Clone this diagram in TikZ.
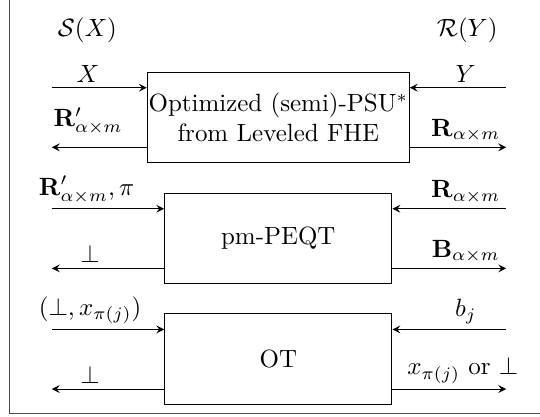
\documentclass[tikz,border=0pt]{standalone}
\usepackage{amsmath,amsfonts,amssymb}
\usepackage{tikz}
\usepackage{xcolor}

\begin{document}
\begin{tikzpicture}[>=stealth]
      \useasboundingbox(0,0) rectangle (7.606,-5.873);
      \tikzset{B/.style = {shape=rectangle, draw, text=black, align=center, inner sep=0.5pt}}
      \tikzset{E/.style = {draw,->}}
      \tikzset{L/.style = {anchor=south, inner sep=2pt}}
      % frame
      \coordinate (ftop) at (0.127,0.1);
      \coordinate (fend) at (7.7,-5.82);
      \draw[black!70] (ftop) |- (fend);
      % boxes
      \node[B,minimum width=3.62cm,minimum height=1.28cm](psu) at (3.92,-1.655) {Optimized (semi)-PSU$^*$\\from Leveled FHE};
      \node[B,minimum width=3.2cm,minimum height=1.28cm](peqt) at (3.92,-3.36) {pm-PEQT};
      \node[B,minimum width=3.2cm,minimum height=1.28cm](ot) at (3.92,-5.06) {OT};
      % parties
      \node(s) at (1.23,-0.42) {$\mathcal{S}(X)$};
      \node(r) at (6.58,-0.42) {$\mathcal{R}(Y)$};
      % arrow ends
      \coordinate (l1) at (0.73,-1.235);
      \coordinate (l2) at (0.73,-2.075);
      \coordinate (l3) at (0.73,-2.94);
      \coordinate (l4) at (0.73,-3.78);
      \coordinate (l5) at (0.73,-4.64);
      \coordinate (l6) at (0.73,-5.48);
      \coordinate (r1) at (7.13,-1.235);
      \coordinate (r2) at (7.13,-2.075);
      \coordinate (r3) at (7.13,-2.94);
      \coordinate (r4) at (7.13,-3.78);
      \coordinate (r5) at (7.13,-4.64);
      \coordinate (r6) at (7.13,-5.48);
      \draw[E](l1) to (l1 -| psu.west);
      \draw[E](l2 -| psu.west) to (l2);
      \draw[E](r1) to (r1 -| psu.east);
      \draw[E](r2 -| psu.east) to (r2);
      \draw[E](l3) to (l3 -| peqt.west);
      \draw[E](l4 -| peqt.west) to (l4);
      \draw[E](r3) to (r3 -| peqt.east);
      \draw[E](r4 -| peqt.east) to (r4);
      \draw[E](l5) to (l5 -| ot.west);
      \draw[E](l6 -| ot.west) to (l6);
      \draw[E](r5) to (r5 -| ot.east);
      \draw[E](r6 -| ot.east) to (r6);
      % labels
      \node[L](x) at (1.24,-1.235) {$X$};
      \node[L](y) at (6.56,-1.235) {$Y$};
      \node[L](rp) at (1.24,-1.97) {$\mathbf{R}'_{\alpha\times m}$};
      \node[L](rr) at (6.56,-2.075) {$\mathbf{R}_{\alpha\times m}$};
      \node[L](rpi) at (1.22,-2.94) {$\mathbf{R}'_{\alpha\times m},\pi$};
      \node[L](rr2) at (6.56,-2.94) {$\mathbf{R}_{\alpha\times m}$};
      \node[L](bot1) at (1.27,-3.78) {$\perp$};
      \node[L](bb) at (6.56,-3.78) {$\mathbf{B}_{\alpha\times m}$};
      \node[L](bx) at (1.27,-4.64) {$(\perp,x_{\pi(j)})$};
      \node[L](bj) at (6.56,-4.64) {$b_j$};
      \node[L](bot2) at (1.27,-5.48) {$\perp$};
      \node[L](xo) at (6.52,-5.48) {$x_{\pi(j)}$ or $\perp$};
    \end{tikzpicture}
\end{document}
